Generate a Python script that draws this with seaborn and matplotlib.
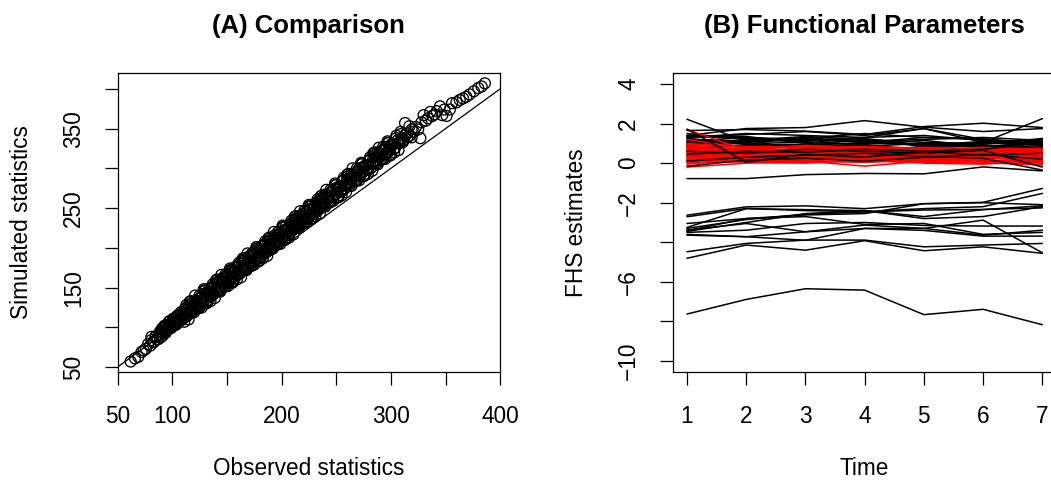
import seaborn as sns
import matplotlib.pyplot as plt
import pandas as pd
import numpy as np

# ---- panel A: observed vs simulated statistics (several read-off passes) ----
observed_a = [62, 66, 69, 72, 74, 76, 78, 80, 81, 83, 85, 86, 88, 89, 90,
              91, 92, 93, 94, 95, 96, 97, 98, 99, 100, 101, 102, 103, 104, 105,
              106, 107, 108, 109, 110, 111, 112, 113, 114, 115, 116, 117, 118, 119, 120,
              121, 122, 123, 124, 125, 126, 127, 128, 129, 130,
              131, 132, 133, 134, 135, 136, 137, 138, 139, 140, 141, 142, 143, 144, 145,
              146, 147, 148, 149, 150, 151, 152, 153, 154, 155, 156, 157, 158, 159, 160,
              161, 162, 163, 164, 165, 166, 167, 168, 169, 170, 171, 172, 173, 174, 175,
              176, 177, 178, 179, 180, 181, 182, 183, 184, 185, 186, 187, 188, 189, 190,
              191, 192, 193, 194, 195, 196, 197, 198, 199, 200,
              201, 202, 203, 204, 205, 206, 207, 208, 209, 210, 211, 212, 213, 214, 215,
              216, 217, 218, 219, 220, 221, 222, 223, 224, 225, 226, 227, 228, 229, 230,
              231, 232, 233, 234, 235, 236, 237, 238, 239, 240,
              242, 244, 246, 248, 250, 252, 254, 256, 258, 260, 262, 264, 266, 268, 270,
              272, 274, 276, 278, 280, 282, 284, 286, 288, 290, 292, 294, 296, 298, 300,
              243, 247, 251, 255, 259, 263, 267, 271, 275, 279, 283, 287, 291, 295, 299,
              302, 304, 306, 308, 310, 312, 313, 315, 317, 319, 321, 323, 325, 327, 328,
              330, 332, 334, 336, 338, 340, 342, 345, 347, 349, 351, 354, 356, 360, 363,
              366, 369, 372, 376, 380, 383, 386]
simulated_a = [57, 61, 63, 69, 71, 73, 79, 77, 84, 81, 88, 85, 91, 87, 94,
               99, 93, 99, 93, 103, 100, 99, 108, 99, 105, 111, 104, 110, 104, 114,
               111, 110, 119, 110, 117, 122, 115, 121, 115, 125, 122, 121, 130, 122, 128,
               133, 126, 132, 126, 136, 133, 132, 142, 133, 139,
               143, 134, 142, 149, 140, 143, 150, 142, 151, 149, 146, 157, 156, 147, 155,
               162, 154, 157, 164, 155, 164, 162, 159, 170, 169, 161, 169, 176, 167, 170,
               177, 168, 177, 175, 173, 184, 183, 174, 182, 189, 180, 183, 190, 182, 191,
               189, 186, 197, 196, 187, 195, 202, 194, 197, 204, 195, 204, 202, 199, 210,
               209, 200, 209, 216, 207, 210, 217, 208, 217, 215,
               212, 222, 217, 227, 221, 216, 226, 229, 222, 228, 224, 235, 225, 235, 230,
               240, 234, 229, 240, 243, 236, 241, 237, 248, 238, 248, 243, 254, 248, 243,
               253, 256, 249, 254, 250, 261, 252, 262, 257, 267,
               262, 258, 270, 274, 268, 274, 271, 284, 275, 286, 282, 293, 289, 285, 296,
               300, 295, 301, 298, 310, 301, 313, 309, 320, 315, 312, 323, 327, 321, 327,
               266, 265, 276, 273, 282, 287, 292, 291, 302, 301, 306, 315, 318, 318, 324,
               330, 326, 335, 332, 338, 336, 357, 344, 341, 349, 346, 352, 349, 338, 358,
               367, 360, 363, 371, 366, 368, 372, 378, 367, 374, 366, 374, 382, 383, 386,
               388, 390, 393, 397, 401, 403, 407]

observed_b = [81, 83, 85, 87, 89, 91, 93, 95, 97, 99, 101, 103, 105, 107, 109,
              111, 113, 115, 117, 119, 121, 123, 125, 127, 129, 131, 133, 135, 137, 139,
              141, 143, 145, 147, 149, 151, 153, 155, 157, 159, 161, 163, 165, 167, 169,
              171, 173, 175, 177, 179, 181, 183, 185, 187, 189, 191, 193, 195, 197, 199,
              201, 203, 205, 207, 209, 211, 213, 215, 217, 219, 221, 223, 225, 227, 229,
              231, 233, 235, 237, 239, 241, 243, 245, 247, 249, 251, 253, 255, 257, 259,
              261, 263, 265, 267, 269, 271, 273, 275, 277, 279, 281, 283, 285, 287, 289,
              291, 293, 295, 297, 299, 301, 303, 305, 307, 309, 311, 313, 315, 317, 319]
simulated_b = [88, 82, 89, 85, 95, 93, 102, 96, 102, 101, 110, 103, 114, 108, 116,
               107, 125, 119, 133, 120, 129, 126, 140, 125, 146, 131, 144, 133, 151, 146,
               160, 146, 155, 153, 167, 152, 172, 157, 171, 160, 178, 172, 187, 173, 182,
               179, 193, 179, 199, 184, 197, 187, 205, 199, 213, 199, 209, 206, 220, 205,
               226, 211, 224, 213, 231, 226, 240, 226, 235, 233, 247, 232, 252, 237, 251,
               240, 258, 252, 266, 253, 262, 259, 273, 259, 279, 264, 277, 266, 285, 279,
               293, 279, 289, 286, 300, 285, 305, 291, 304, 293, 311, 306, 320, 306, 315,
               312, 327, 312, 332, 317, 331, 320, 338, 332, 346, 333, 342, 339, 353, 339]

observed_c = [100, 102, 104, 106, 108, 110, 112, 114, 116, 118, 120, 122, 124, 126, 128,
              130, 132, 134, 136, 138, 140, 142, 144, 146, 148, 150, 152, 154, 156, 158,
              160, 162, 164, 166, 168, 170, 172, 174, 176, 178, 180, 182, 184, 186, 188,
              190, 192, 194, 196, 198, 200, 202, 204, 206, 208, 210, 212, 214, 216, 218,
              220, 222, 224, 226, 228, 230, 232, 234, 236, 238, 240, 242, 244, 246, 248,
              250, 252, 254, 256, 258, 260, 262, 264, 266, 268, 270, 272, 274, 276, 278,
              280, 282, 284, 286, 288, 290, 292, 294, 296, 298, 300]
simulated_c = [101, 109, 107, 115, 109, 117, 124, 115, 132, 123, 119, 133, 124, 138, 132,
               146, 131, 144, 150, 142, 159, 150, 145, 159, 151, 165, 159, 172, 158, 171,
               177, 168, 185, 177, 172, 186, 177, 192, 186, 199, 184, 197, 204, 195, 212,
               203, 199, 213, 204, 218, 212, 226, 211, 224, 230, 222, 239, 230, 225, 239,
               231, 245, 239, 252, 237, 251, 257, 248, 265, 257, 252, 266, 257, 271, 266,
               279, 264, 277, 284, 275, 292, 283, 278, 293, 284, 298, 292, 306, 291, 304,
               310, 301, 319, 310, 305, 319, 311, 325, 319, 332, 317]

observed_d = [91, 93, 95, 97, 99, 101, 103, 105, 107, 109,
              111, 113, 115, 117, 119, 121, 123, 125, 127, 129, 131, 133, 135, 137, 139,
              141, 143, 145, 147, 149, 151, 153, 155, 157, 159, 161, 163, 165, 167, 169,
              171, 173, 175, 177, 179, 181, 183, 185, 187, 189, 191, 193, 195, 197, 199,
              201, 203, 205, 207, 209, 211, 213, 215, 217, 219, 221, 223, 225, 227, 229,
              231, 233, 235, 237, 239, 241, 243, 245, 247, 249, 251, 253, 255, 257, 259,
              261, 263, 265, 267, 269, 271, 273, 275, 277, 279, 281, 283, 285, 287, 289,
              291, 293, 295, 297, 299, 301, 303, 305, 307, 309, 311]
simulated_d = [89, 100, 97, 107, 103, 102, 110, 115, 108, 115,
               112, 128, 110, 130, 121, 140, 129, 125, 138, 148, 130, 143, 138, 154, 137,
               157, 148, 166, 156, 152, 165, 174, 156, 170, 165, 181, 163, 184, 175, 193,
               182, 178, 192, 201, 183, 196, 192, 208, 190, 210, 201, 220, 209, 205, 218,
               228, 210, 223, 218, 234, 217, 237, 228, 246, 235, 232, 245, 254, 236, 250,
               245, 261, 243, 263, 255, 273, 262, 258, 272, 281, 263, 276, 271, 288, 270,
               290, 281, 300, 289, 285, 298, 307, 290, 303, 298, 314, 297, 317, 308, 326,
               315, 312, 325, 334, 316, 330, 325, 341, 323, 343, 335]

x_ticks_a = [50, 100, 150, 200, 250, 300, 350, 400]
x_labels_a = ['50', '100', '', '200', '', '300', '', '400']
y_ticks_a = [50, 100, 150, 200, 250, 300, 350, 400]
y_labels_a = ['50', '', '150', '', '250', '', '350', '']

# ---- panel B: functional parameter estimates over time ----
time_points = [1, 2, 3, 4, 5, 6, 7]

upper_black = [
    [2.22, 1.10, 1.30, 1.05, 0.95, 0.90, 0.80],
    [1.40, 1.75, 1.80, 2.15, 1.82, 1.60, 1.75],
    [1.65, 1.70, 1.62, 1.45, 1.85, 2.02, 1.80],
    [1.30, 1.45, 1.60, 1.40, 1.75, 1.05, 2.25],
    [1.20, 1.10, 1.25, 1.50, 1.30, 1.20, 1.00],
    [1.35, 1.25, 1.15, 1.30, 1.40, 1.15, 1.10],
    [1.10, 1.30, 1.20, 1.10, 1.20, 1.30, 1.15],
    [1.00, 1.15, 1.35, 1.20, 1.05, 1.00, 1.20],
    [1.25, 1.00, 1.05, 0.95, 1.15, 0.85, 0.95],
    [0.95, 1.20, 1.10, 1.25, 0.90, 1.10, 1.05],
    [1.15, 0.95, 0.90, 1.05, 1.30, 1.25, 0.85],
    [0.90, 1.05, 1.20, 0.85, 1.00, 0.95, 1.25],
    [1.40, 1.35, 1.00, 1.15, 0.85, 1.05, 0.90],
    [0.80, 0.90, 0.95, 1.00, 0.95, 0.80, 1.10],
    [1.05, 0.85, 0.80, 0.75, 0.80, 0.90, 0.70],
    [0.70, 0.75, 0.85, 0.90, 0.70, 0.75, 0.80],
    [1.30, 1.50, 1.40, 1.30, 1.75, 1.20, 1.05],
    [1.50, 1.20, 0.60, 0.55, 0.85, 1.00, 0.95],
    [0.85, 0.70, 0.65, 0.40, 0.55, 0.60, 0.65],
    [-0.78, -0.78, -0.58, -0.52, -0.54, -0.19, -0.39],
]

red_params = [
    [1.70, 0.65, 0.55, 0.50, 0.45, 0.40, 0.35],
    [0.80, 0.55, 0.70, 0.60, 0.55, 0.65, 0.75],
    [0.60, 0.40, 0.50, 0.45, 0.35, 0.40, 0.50],
    [0.40, 0.30, 0.35, 0.40, 0.30, 0.25, 0.20],
    [0.20, 0.15, 0.25, 0.20, 0.15, 0.10, 0.05],
    [-0.20, 0.00, 0.05, 0.10, 0.05, 0.00, -0.05],
    [0.10, 0.20, 0.10, -0.15, 0.10, 0.05, -0.10],
    [0.50, 0.60, 0.65, 0.55, 0.70, 0.60, 0.55],
    [0.90, 0.70, 0.90, 0.75, 0.65, 0.70, 0.60],
    [0.30, 0.45, 0.40, 0.30, 0.40, 0.50, 0.45],
    [0.00, 0.10, 0.15, 0.05, 0.20, 0.15, 0.00],
    [0.70, 0.50, 0.45, 0.35, 0.50, 0.55, 0.30],
    [1.00, 0.80, 0.60, 0.65, 0.60, 0.45, 0.40],
    [0.25, 0.35, 0.30, 0.25, 0.25, 0.35, 0.25],
    [0.55, 0.25, 0.20, 0.30, 0.45, 0.30, 0.10],
    [0.15, 0.05, 0.00, 0.15, 0.00, -0.05, 0.15],
    [0.85, 0.65, 0.75, 0.70, 0.80, 0.75, 0.65],
    [0.45, 0.55, 0.60, 0.50, 0.40, 0.35, 0.40],
    [0.35, 0.20, 0.45, 0.35, 0.25, 0.20, 0.30],
    [-0.05, 0.25, 0.20, 0.25, 0.10, 0.25, 0.60],
    [0.65, 0.45, 0.35, 0.20, 0.35, 0.45, 0.15],
    [0.05, 0.35, 0.55, 0.45, 0.55, 0.50, 0.35],
    [1.20, 0.75, 0.55, 0.60, 0.50, 0.60, 0.50],
    [0.75, 0.60, 0.50, 0.40, 0.60, 0.80, 0.70],
    [0.30, 0.10, 0.10, 0.05, 0.15, 0.30, 0.10],
    [0.95, 0.85, 0.80, 0.85, 0.75, 0.65, 0.55],
    [0.50, 0.40, 0.25, 0.55, 0.30, 0.15, 0.05],
    [0.15, 0.30, 0.35, 0.20, 0.45, 0.40, 0.65],
    [0.60, 0.70, 0.85, 0.80, 0.65, 0.55, 0.45],
    [0.40, 0.50, 0.30, 0.40, 0.20, 0.10, 0.20],
]

# black curves that sit on top of the red band
front_black = [
    [1.72, 0.05, 0.45, 0.30, 0.60, 0.70, 1.05],
    [0.60, 0.50, 0.70, 0.60, 0.50, 0.65, -0.20],
    [0.10, 0.30, 0.40, 0.50, 0.35, 0.25, -0.35],
    [-0.15, 0.15, 0.25, 0.10, 0.30, 0.45, 0.20],
    [0.45, 0.60, 0.55, 0.70, 0.60, 0.40, 0.50],
]

middle_black = [
    [-2.63, -2.21, -2.16, -2.30, -2.05, -1.98, -1.28],
    [-2.71, -2.29, -2.40, -2.45, -2.30, -2.20, -1.53],
    [-3.05, -2.80, -2.62, -2.55, -2.05, -2.00, -2.10],
    [-3.30, -2.85, -2.58, -2.47, -2.37, -2.34, -2.26],
    [-3.38, -3.05, -3.47, -3.13, -3.30, -2.88, -4.53],
    [-3.42, -2.80, -2.70, -3.10, -3.05, -3.60, -3.50],
    [-3.45, -3.00, -2.55, -2.40, -2.80, -2.70, -2.20],
    [-3.64, -3.72, -3.47, -3.30, -3.30, -3.64, -3.39],
    [-3.50, -3.39, -3.05, -3.00, -3.15, -3.18, -3.18],
    [-4.48, -4.06, -3.89, -3.89, -4.23, -4.14, -4.06],
    [-4.81, -4.14, -4.40, -3.92, -4.43, -4.23, -4.56],
    [-3.60, -3.72, -3.90, -3.30, -3.40, -3.69, -3.69],
    [-3.25, -2.30, -2.35, -2.40, -2.70, -2.35, -2.15],
    [-7.63, -6.89, -6.35, -6.42, -7.66, -7.39, -8.17],
]

y_ticks_b = [-10, -8, -6, -4, -2, 0, 2, 4]
y_labels_b = ['\u221210', '', '\u22126', '', '\u22122', '0', '2', '4']


def to_long(curves, tag):
    rows = []
    for k, vals in enumerate(curves):
        for t, v in zip(time_points, vals):
            rows.append({'param': f'{tag}{k}', 'time': t, 'value': v})
    return pd.DataFrame(rows)


sns.set_style('white')
plt.rcParams['font.family'] = ['Liberation Sans', 'DejaVu Sans']
plt.rcParams['axes.edgecolor'] = 'black'
plt.rcParams['axes.linewidth'] = 0.9
plt.rcParams['text.color'] = 'black'
plt.rcParams['axes.labelcolor'] = 'black'

fig = plt.figure(figsize=(10.51, 4.84), dpi=100)
ax1 = fig.add_axes([0.1118, 0.2314, 0.3641, 0.6178])
ax2 = fig.add_axes([0.6401, 0.2314, 0.3652, 0.6178])

# panel A
obs_all = observed_a + observed_b + observed_c + observed_d
sim_all = simulated_a + simulated_b + simulated_c + simulated_d
sns.scatterplot(x=obs_all, y=sim_all, ax=ax1, marker='o', s=62,
                facecolors='none', edgecolor='black', linewidth=0.95)
ax1.axline((0, 0), slope=1, color='black', lw=0.9)
ax1.set_xlim(50, 400)
ax1.set_ylim(43.8, 420)
ax1.set_xticks(x_ticks_a)
ax1.set_xticklabels(x_labels_a)
ax1.set_yticks(y_ticks_a)
ax1.set_yticklabels(y_labels_a)
ax1.set_xlabel('Observed statistics', fontsize=16.3, labelpad=21)
ax1.set_ylabel('Simulated statistics', fontsize=16.3, labelpad=21)
ax1.set_title('(A) Comparison', fontsize=18.5, fontweight='bold', pad=29)

# panel B
sns.lineplot(data=to_long(upper_black + middle_black, 'b'), x='time', y='value',
             units='param', estimator=None, color='black', lw=1.1, ax=ax2)
sns.lineplot(data=to_long(red_params, 'r'), x='time', y='value',
             units='param', estimator=None, color='red', lw=1.1, ax=ax2)
sns.lineplot(data=to_long(front_black, 'f'), x='time', y='value',
             units='param', estimator=None, color='black', lw=1.1, ax=ax2)
ax2.set_xlim(0.76, 7.24)
ax2.set_ylim(-10.56, 4.56)
ax2.set_xticks(time_points)
ax2.set_yticks(y_ticks_b)
ax2.set_yticklabels(y_labels_b)
ax2.set_xlabel('Time', fontsize=16.3, labelpad=21)
ax2.set_ylabel('FHS estimates', fontsize=16.3, labelpad=21)
ax2.set_title('(B) Functional Parameters', fontsize=18.5, fontweight='bold', pad=29)

for ax in (ax1, ax2):
    ax.tick_params(axis='both', direction='out', length=9.5, width=0.9,
                   pad=14, labelsize=16.3, bottom=True, left=True, colors='black')
    for lab in ax.get_yticklabels():
        lab.set_rotation(90)
        lab.set_va('center')
    for sp in ax.spines.values():
        sp.set_visible(True)
        sp.set_color('black')

fig.savefig('out.png', dpi=100)
